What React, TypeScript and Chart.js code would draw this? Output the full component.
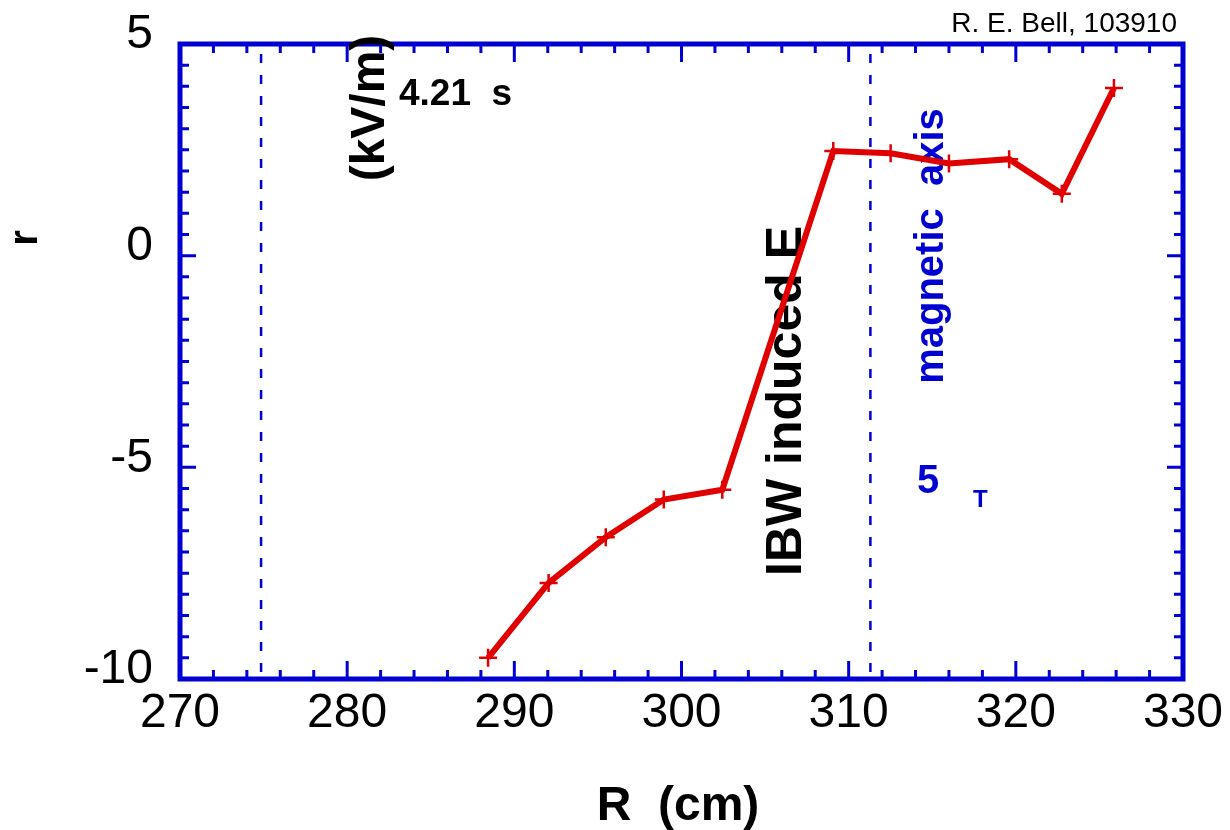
import React, { useEffect, useRef } from "react";
import { Chart, registerables } from "chart.js";

Chart.register(...registerables);

// ---- data ----
const radiusCm = [288.43, 292.05, 295.47, 298.94, 302.44, 309.08, 312.51, 316.0, 319.6, 322.75, 325.87];
const erKvPerM = [-9.5, -7.73, -6.65, -5.76, -5.53, 2.47, 2.42, 2.18, 2.28, 1.46, 3.96];
const xTickLabels = [270, 280, 290, 300, 310, 320, 330];
const yTickLabels = [-10, -5, 0, 5];
const dashedMarkersCm = [274.85, 311.3];

const FONT = "'Liberation Sans', Arial, Helvetica, sans-serif";
const BLUE = "#0000d2";
const RED = "#e00000";

const X_MINOR = 2;
const Y_MINOR = 0.5;
const X_MAJOR = 10;
const Y_MAJOR = 5;

function drawRotated(ctx: CanvasRenderingContext2D, text: string, cx: number, cy: number, font: string, color: string) {
  ctx.save();
  ctx.translate(cx, cy);
  ctx.rotate(-Math.PI / 2);
  ctx.font = font;
  ctx.fillStyle = color;
  ctx.textAlign = "center";
  ctx.textBaseline = "middle";
  ctx.fillText(text, 0, 0);
  ctx.restore();
}

const framePlugin = {
  id: "frameAndNotes",
  beforeDatasetsDraw(chart: any) {
    const { ctx, chartArea: a, scales } = chart;
    const x = scales.x;
    const y = scales.y;
    ctx.save();

    // dashed vertical markers
    ctx.strokeStyle = BLUE;
    ctx.lineWidth = 2.5;
    ctx.setLineDash([9, 12]);
    for (const v of dashedMarkersCm) {
      const px = x.getPixelForValue(v);
      ctx.beginPath();
      ctx.moveTo(px, a.top + 10);
      ctx.lineTo(px, a.bottom);
      ctx.stroke();
    }
    ctx.setLineDash([]);

    // ticks (inside, mirrored)
    ctx.lineWidth = 3;
    const nx = Math.round((x.max - x.min) / X_MINOR);
    for (let i = 0; i <= nx; i++) {
      const v = x.min + i * X_MINOR;
      const px = x.getPixelForValue(v);
      const major = Math.abs(v / X_MAJOR - Math.round(v / X_MAJOR)) < 1e-6;
      const len = major ? 18 : 9;
      ctx.beginPath();
      ctx.moveTo(px, a.bottom);
      ctx.lineTo(px, a.bottom - len);
      ctx.moveTo(px, a.top);
      ctx.lineTo(px, a.top + len);
      ctx.stroke();
    }
    const ny = Math.round((y.max - y.min) / Y_MINOR);
    for (let i = 0; i <= ny; i++) {
      const v = y.min + i * Y_MINOR;
      const py = y.getPixelForValue(v);
      const major = Math.abs(v / Y_MAJOR - Math.round(v / Y_MAJOR)) < 1e-6;
      const len = major ? 16 : 9;
      ctx.beginPath();
      ctx.moveTo(a.left, py);
      ctx.lineTo(a.left + len, py);
      ctx.moveTo(a.right, py);
      ctx.lineTo(a.right - len, py);
      ctx.stroke();
    }

    // frame
    ctx.lineWidth = 5;
    ctx.strokeRect(a.left, a.top, a.right - a.left, a.bottom - a.top);

    // texts
    ctx.fillStyle = "#000";
    ctx.font = `28px ${FONT}`;
    ctx.textAlign = "right";
    ctx.textBaseline = "alphabetic";
    ctx.fillText("R. E. Bell, 103910", 1177, 32);

    ctx.font = `bold 37px ${FONT}`;
    ctx.textAlign = "left";
    ctx.fillText("4.21  s", 399, 105);

    ctx.font = `bold 48px ${FONT}`;
    ctx.textAlign = "center";
    ctx.fillText("R  (cm)", 678, 820);

    ctx.fillStyle = BLUE;
    ctx.textAlign = "left";
    ctx.font = `bold 40px ${FONT}`;
    ctx.fillText("5", 917, 493);
    ctx.font = `bold 24px ${FONT}`;
    ctx.fillText("T", 973, 507);

    drawRotated(ctx, "r", 26, 238, `bold 40px ${FONT}`, "#000");
    drawRotated(ctx, "(kV/m)", 371, 108, `bold 48px ${FONT}`, "#000");
    drawRotated(ctx, "IBW induced E", 787, 401, `bold 50px ${FONT}`, "#000");
    drawRotated(ctx, "magnetic  axis", 932, 246, `bold 40px ${FONT}`, BLUE);

    ctx.restore();
  },
};

export default function App() {
  const canvasRef = useRef<HTMLCanvasElement | null>(null);

  useEffect(() => {
    const canvas = canvasRef.current;
    if (!canvas) return;
    const chart = new Chart(canvas, {
      type: "line",
      data: {
        datasets: [
          {
            data: radiusCm.map((r, i) => ({ x: r, y: erKvPerM[i] })),
            borderColor: RED,
            borderWidth: 6,
            pointStyle: "cross",
            pointRadius: 9,
            pointBorderWidth: 2.5,
            pointBorderColor: RED,
            pointBackgroundColor: RED,
            tension: 0,
            fill: false,
          },
        ],
      },
      options: {
        animation: false,
        responsive: false,
        maintainAspectRatio: false,
        layout: { padding: { left: 0, top: 44, right: 47, bottom: 0 } },
        plugins: { legend: { display: false }, tooltip: { enabled: false } },
        scales: {
          x: {
            type: "linear",
            min: xTickLabels[0],
            max: xTickLabels[xTickLabels.length - 1],
            afterFit: (s: any) => {
              s.height = 151;
              s.paddingLeft = 0;
              s.paddingRight = 0;
            },
            afterBuildTicks: (s: any) => {
              s.ticks = xTickLabels.map((v) => ({ value: v }));
            },
            grid: { display: false, drawTicks: false },
            border: { display: false },
            ticks: {
              font: { family: FONT, size: 48 },
              color: "#000",
              padding: 6,
              maxRotation: 0,
              autoSkip: false,
            },
          },
          y: {
            type: "linear",
            min: yTickLabels[0],
            max: yTickLabels[yTickLabels.length - 1],
            afterFit: (s: any) => {
              s.width = 180;
              s.paddingTop = 0;
              s.paddingBottom = 0;
            },
            afterBuildTicks: (s: any) => {
              s.ticks = yTickLabels.map((v) => ({ value: v }));
            },
            grid: { display: false, drawTicks: false },
            border: { display: false },
            ticks: {
              font: { family: FONT, size: 48 },
              color: "#000",
              padding: 27,
              labelOffset: -9,
              autoSkip: false,
            },
          },
        },
      },
      plugins: [framePlugin],
    } as any);
    return () => chart.destroy();
  }, []);

  return (
    <div style={{ position: "absolute", left: 0, top: 0, width: 1230, height: 830, background: "#fff" }}>
      <canvas ref={canvasRef} width={1230} height={830} style={{ display: "block" }} />
    </div>
  );
}
